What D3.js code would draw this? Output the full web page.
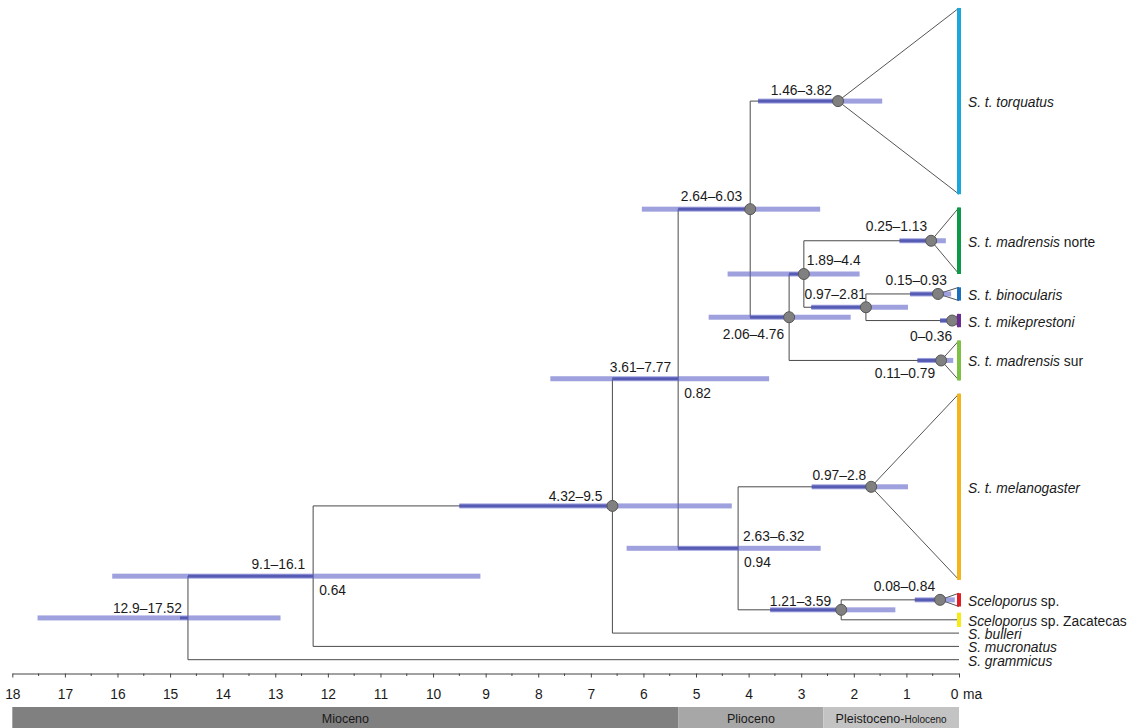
<!DOCTYPE html>
<html>
<head>
<meta charset="utf-8">
<script src="https://cdn.jsdelivr.net/npm/d3@7"></script>
<style>
  body { margin: 0; background: #fff; }
  svg { display: block; }
  text { font-family: "Liberation Sans", Arial, sans-serif; fill: #1a1a1a; }
</style>
</head>
<body>
<svg id="chart" width="1134" height="728"></svg>
<script>
// ---- terminal taxa (top to bottom) ----
const tipIds = ["torquatus", "madrensisNorte", "binocularis", "mikeprestoni", "madrensisSur",
                "melanogaster", "scelSp", "zacatecas", "bulleri", "mucronatus", "grammicus"];
// sampled individuals in each collapsed clade (0 = single lineage)
const tipCounts = [14, 5, 1, 1, 3, 14, 1, 0, 0, 0, 0];
const tipLabels = [
  [["S. t. torquatus", true]],
  [["S. t. madrensis", true], [" norte", false]],
  [["S. t. binocularis", true]],
  [["S. t. mikeprestoni", true]],
  [["S. t. madrensis", true], [" sur", false]],
  [["S. t. melanogaster", true]],
  [["Sceloporus", true], [" sp.", false]],
  [["Sceloporus", true], [" sp. Zacatecas", false]],
  [["S. bulleri", true]],
  [["S. mucronatus", true]],
  [["S. grammicus", true]]
];
const tipColors = ["#1aa7dc", "#0d9a48", "#1c6fbd", "#6b2d92", "#7dc142",
                   "#f3b51b", "#e31d25", "#f6ec13", null, null, null];

// ---- dated nodes: age (ma), 95% HPD, posterior shown when < 0.95 ----
const nodes = [
  { id: "root", children: ["B", "grammicus"], age: 14.66, hpd: [12.9, 17.52], pp: null, circle: false },
  { id: "B",  children: ["C", "mucronatus"], age: 12.28, hpd: [9.1, 16.1],  pp: 0.64, circle: false },
  { id: "C",  children: ["D", "bulleri"],    age: 6.59,  hpd: [4.32, 9.5],  pp: null, circle: true },
  { id: "D",  children: ["E", "F"],          age: 5.34,  hpd: [3.61, 7.77], pp: 0.82, circle: false },
  { id: "E",  children: ["T", "G"],          age: 3.97,  hpd: [2.64, 6.03], pp: null, circle: true },
  { id: "T",  clade: "torquatus",            age: 2.30,  hpd: [1.46, 3.82], pp: null, circle: true },
  { id: "G",  children: ["H", "Su"],         age: 3.23,  hpd: [2.06, 4.76], pp: null, circle: true },
  { id: "H",  children: ["N", "I"],          age: 2.95,  hpd: [1.89, 4.4],  pp: null, circle: true },
  { id: "N",  clade: "madrensisNorte",       age: 0.53,  hpd: [0.25, 1.13], pp: null, circle: true },
  { id: "I",  children: ["Bi", "Mk"],        age: 1.77,  hpd: [0.97, 2.81], pp: null, circle: true },
  { id: "Bi", clade: "binocularis",          age: 0.40,  hpd: [0.15, 0.93], pp: null, circle: true },
  { id: "Mk", clade: "mikeprestoni",         age: 0.13,  hpd: [0, 0.36],    pp: null, circle: true },
  { id: "Su", clade: "madrensisSur",         age: 0.34,  hpd: [0.11, 0.79], pp: null, circle: true },
  { id: "F",  children: ["Me", "J"],         age: 4.20,  hpd: [2.63, 6.32], pp: 0.94, circle: false },
  { id: "Me", clade: "melanogaster",         age: 1.67,  hpd: [0.97, 2.8],  pp: null, circle: true },
  { id: "J",  children: ["Sc", "zacatecas"], age: 2.24,  hpd: [1.21, 3.59], pp: null, circle: true },
  { id: "Sc", clade: "scelSp",               age: 0.36,  hpd: [0.08, 0.84], pp: null, circle: true }
];

// ---- time axis and epochs ----
const tickValues = d3.range(0, 19);
const epochNames = ["Mioceno", "Plioceno", "Pleistoceno-Holoceno"];
const epochBounds = [[18, 5.333], [5.333, 2.58], [2.58, 0]];
const epochColors = ["#808080", "#a7a7a7", "#c3c3c3"];

// ---- layout ----
const svg = d3.select("#chart");
const xs = d3.scaleLinear().domain([18, 0]).range([12.3, 959]);
const ROW = 13.3, TOP = 8;
const FONT = 13.8;

const tipTop = {}, tipBot = {}, tipY = {};
let cursor = TOP;
tipIds.forEach((id, i) => {
  const h = tipCounts[i] * ROW;
  tipTop[id] = cursor; tipBot[id] = cursor + h; tipY[id] = cursor + h / 2;
  cursor += h + ROW;
});

const byId = new Map(nodes.map(n => [n.id, n]));
const parentOf = new Map();
nodes.forEach(n => (n.children || []).forEach(c => parentOf.set(c, n)));

function yOf(id) {
  const n = byId.get(id);
  if (!n) return tipY[id];
  if (n.clade) return tipY[n.clade];
  return d3.mean(n.children, yOf);
}
function xOf(id) {
  const n = byId.get(id);
  return n ? xs(n.age) : xs(0);
}

const gBranch = svg.append("g").attr("stroke", "#4a4a4a").attr("stroke-width", 1).attr("fill", "none");

// branches
nodes.forEach(n => {
  const nx = xs(n.age);
  if (n.children) {
    const ys = n.children.map(yOf);
    gBranch.append("line").attr("x1", nx).attr("x2", nx)
      .attr("y1", d3.min(ys)).attr("y2", d3.max(ys));
    n.children.forEach(c => {
      gBranch.append("line").attr("x1", nx).attr("x2", xOf(c))
        .attr("y1", yOf(c)).attr("y2", yOf(c));
    });
  }
});

// collapsed clades as open triangles
const gTri = svg.append("g").attr("stroke", "#555").attr("stroke-width", 1).attr("fill", "none");
nodes.filter(n => n.clade).forEach(n => {
  const nx = xs(n.age), ny = yOf(n.id), x0 = xs(0);
  gTri.append("path").attr("d", `M${x0},${tipTop[n.clade]}L${nx},${ny}L${x0},${tipBot[n.clade]}`);
});

// HPD bars (darker where the incoming branch runs through them)
const gHpd = svg.append("g");
nodes.forEach(n => {
  const ny = yOf(n.id);
  const x1 = xs(n.hpd[1]), x2 = xs(n.hpd[0]);
  const p = parentOf.get(n.id);
  const from = p ? Math.max(x1, xs(p.age)) : xs(n.age) - 8;
  gHpd.append("rect").attr("x", from).attr("width", xs(n.age) - from)
    .attr("y", ny - 1.5).attr("height", 3).attr("fill", "#4d5199");
  gHpd.append("rect").attr("x", x1).attr("width", x2 - x1)
    .attr("y", ny - 2.5).attr("height", 5)
    .attr("fill", "#5d62c6").attr("fill-opacity", 0.6);
});

// node circles
svg.append("g").selectAll("circle")
  .data(nodes.filter(n => n.circle))
  .join("circle")
  .attr("cx", d => xs(d.age)).attr("cy", d => yOf(d.id)).attr("r", 5.5)
  .attr("fill", "#808080").attr("stroke", "#555").attr("stroke-width", 1);

// HPD labels: placement per node
const place = {
  root: { dx: -6, dy: -5, a: "end" },
  B:  { dx: -8, dy: -7, a: "end" },
  C:  { dx: -10, dy: -5, a: "end" },
  D:  { dx: -7, dy: -7, a: "end" },
  E:  { dx: -8, dy: -8, a: "end" },
  T:  { dx: -6, dy: -6, a: "end" },
  G:  { dx: -5, dy: 22, a: "end" },
  H:  { dx: 3, dy: -9, a: "start" },
  N:  { dx: -4, dy: -10, a: "end" },
  I:  { dx: 0, dy: -8, a: "end" },
  Bi: { dx: 9, dy: -9, a: "end" },
  Mk: { dx: 0, dy: 20, a: "end" },
  Su: { dx: -6, dy: 18, a: "end" },
  F:  { dx: 5, dy: -7, a: "start" },
  Me: { dx: -5, dy: -7, a: "end" },
  J:  { dx: -10, dy: -4, a: "end" },
  Sc: { dx: -5, dy: -9, a: "end" }
};
const gLab = svg.append("g").attr("font-size", FONT);
nodes.forEach(n => {
  const pl = place[n.id];
  const nx = xs(n.age), ny = yOf(n.id);
  gLab.append("text").attr("x", nx + pl.dx).attr("y", ny + pl.dy)
    .attr("text-anchor", pl.a)
    .text(`${n.hpd[0]}\u2013${n.hpd[1]}`);
  if (n.pp != null) {
    gLab.append("text").attr("x", nx + 6).attr("y", ny + 19).text(n.pp);
  }
});

// coloured clade bars
svg.append("g").selectAll("rect")
  .data(tipIds.map((id, i) => ({ id, i })).filter(d => tipColors[d.i]))
  .join("rect")
  .attr("x", xs(0) - 2).attr("width", 4)
  .attr("y", d => tipY[d.id] - Math.max(tipCounts[d.i], 1) * ROW / 2 - (tipCounts[d.i] ? 0 : 0.5))
  .attr("height", d => Math.max(tipCounts[d.i], 1) * ROW + (tipCounts[d.i] ? 0 : 1))
  .attr("fill", d => tipColors[d.i]);

// tip labels
const gTip = svg.append("g").attr("font-size", FONT);
tipIds.forEach((id, i) => {
  const t = gTip.append("text").attr("x", 968).attr("y", tipY[id] + 6);
  tipLabels[i].forEach(([s, it]) => {
    t.append("tspan").attr("font-style", it ? "italic" : "normal").text(s);
  });
});

// time axis
const AXIS_Y = 673.5;
const axis = d3.axisBottom(xs).tickValues(tickValues).tickSize(4).tickSizeOuter(0).tickPadding(12)
  .tickFormat(d => d);
const gAxis = svg.append("g").attr("transform", `translate(0,${AXIS_Y})`).call(axis);
gAxis.select(".domain").attr("stroke", "#444");
gAxis.selectAll(".tick line").attr("stroke", "#444");
gAxis.selectAll(".tick text").attr("font-size", FONT).attr("fill", "#1a1a1a")
  .attr("font-family", "'Liberation Sans', Arial, sans-serif")
  .attr("dx", d => d === 0 ? -5 : 0);
// half-million-year minor ticks
gAxis.append("g").selectAll("line")
  .data(d3.range(0.5, 18, 1))
  .join("line")
  .attr("x1", d => xs(d)).attr("x2", d => xs(d))
  .attr("y1", 0).attr("y2", 2.5).attr("stroke", "#444");
gAxis.append("text").attr("x", xs(0) + 4).attr("y", 16 + 9.8)
  .attr("font-size", FONT).attr("fill", "#1a1a1a").attr("text-anchor", "start")
  .attr("font-family", "'Liberation Sans', Arial, sans-serif").text("ma");

// geological epochs
const gEp = svg.append("g");
epochBounds.forEach((b, i) => {
  const x1 = xs(b[0]), x2 = xs(b[1]);
  gEp.append("rect").attr("x", x1).attr("width", x2 - x1).attr("y", 707).attr("height", 21)
    .attr("fill", epochColors[i]);
  const t = gEp.append("text").attr("x", (x1 + x2) / 2).attr("y", 723)
    .attr("text-anchor", "middle").attr("font-size", 12.5).attr("fill", "#111");
  const parts = epochNames[i].split("-");
  if (parts.length === 2) {
    t.append("tspan").text(parts[0] + "-");
    t.append("tspan").attr("font-size", 10).text(parts[1]);
  } else {
    t.text(epochNames[i]);
  }
});
</script>
</body>
</html>
